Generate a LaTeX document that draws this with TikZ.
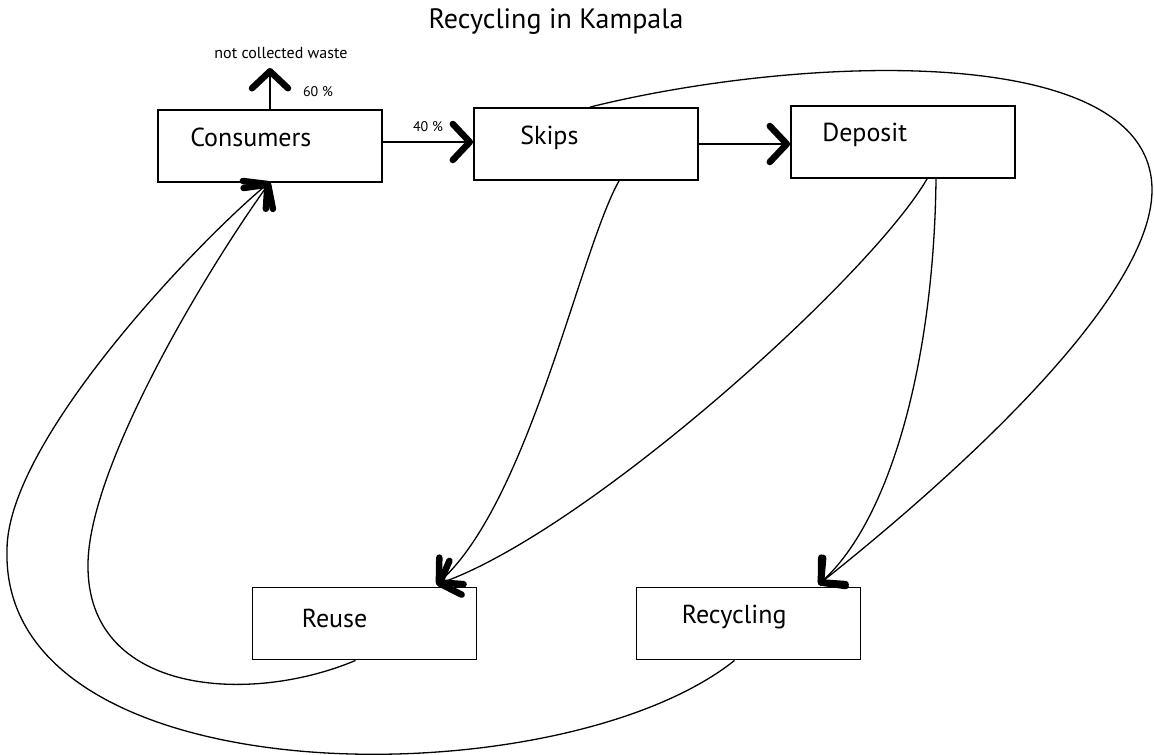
\documentclass[tikz,border=0pt]{standalone}
\usepackage{fontspec}
\setmainfont{PT Sans}
\usetikzlibrary{arrows.meta,positioning}
\tikzset{box/.style = {rectangle, draw, line width=1.9pt,
    minimum width=224pt, minimum height=72pt, inner sep=0pt}}
\tikzset{boxtext/.style = {anchor=base west, inner sep=0pt,
    font=\fontsize{26}{30}\selectfont}}
\tikzset{tip/.style = {-{Straight Barb[length=17pt,width=36pt,line width=6.5pt,round]}}}
\tikzset{line/.style = {draw, line width=1.6pt, tip}}
\tikzset{curve/.style = {draw, line width=1.3pt, tip}}
\tikzset{pct/.style = {font=\fontsize{14}{16}\selectfont, inner sep=0pt}}

\begin{document}
\begin{tikzpicture}[x=1pt, y=-1pt]
    \path[use as bounding box, fill=white] (0,0) rectangle (1154,755);

    \node[anchor=base, inner sep=0pt, font=\fontsize{28}{32}\selectfont] (title) at (556,28) {Recycling in Kampala};

    \node[box] (cons) at (270,146) {};
    \node[box] (skips) at (586,144) {};
    \node[box] (depo) at (903,142) {};
    \node[box] (reuse) at (364.5,623.5) {};
    \node[box] (recyc) at (748.5,623.5) {};

    \node[boxtext] (constext) at ([xshift=33pt,yshift=-37pt]cons.north west) {Consumers};
    \node[boxtext] (skipstext) at ([xshift=47pt,yshift=-37pt]skips.north west) {Skips};
    \node[boxtext] (depotext) at ([xshift=32pt,yshift=-36pt]depo.north west) {Deposit};
    \node[boxtext] (reusetext) at ([xshift=50pt,yshift=-41pt]reuse.north west) {Reuse};
    \node[boxtext] (recyctext) at ([xshift=46pt,yshift=-37pt]recyc.north west) {Recycling};

    \node[inner sep=0pt, font=\fontsize{16}{18}\selectfont, anchor=base] (waste) at (281,58) {not collected waste};
    \coordinate (wasteend) at (270,68);

    % straight arrows
    \path[line] (cons.north) -- (wasteend);
    \node[pct] (p60) at (318,92) {60 \%};
    \path[line] ([yshift=4pt]cons.east) -- ([yshift=2pt]skips.west);
    \node[pct] (p40) at (428,127) {40 \%};
    \path[line] (skips.east) -- (skips.east -| depo.west);

    % curves down to reuse and recycling
    \path[curve] ([xshift=33pt]skips.south) .. controls +(-39,69) and +(93,-85) .. ([xshift=72pt,yshift=2pt]reuse.north);
    \path[curve] ([xshift=24pt]depo.south) .. controls +(-57,98) and +(153,-55) .. ([xshift=72pt,yshift=2pt]reuse.north);
    \path[curve] ([xshift=33pt]depo.south) .. controls +(-2,182) and +(72,-66) .. ([xshift=70pt,yshift=2pt]recyc.north);

    % big loop over the top
    \coordinate (loopE) at (1152,190);
    \path[curve] ([xshift=4pt]skips.north) .. controls (800,55) and (1152,40) .. (loopE)
        .. controls (1152,300) and (950,480) .. ([xshift=70pt,yshift=2pt]recyc.north);

    % loops back to consumers
    \coordinate (loopW1) at (88,565);
    \coordinate (loopW2) at (7,550);
    \path[curve] ([xshift=-9pt]reuse.south) .. controls (250,705) and (87,695) .. (loopW1)
        .. controls (88,470) and (200,280) .. ([yshift=1pt]cons.south);
    \path[curve] ([xshift=-14pt]recyc.south) .. controls (560,800) and (0,800) .. (loopW2)
        .. controls (7,440) and (200,240) .. ([yshift=1pt]cons.south);
\end{tikzpicture}
\end{document}
